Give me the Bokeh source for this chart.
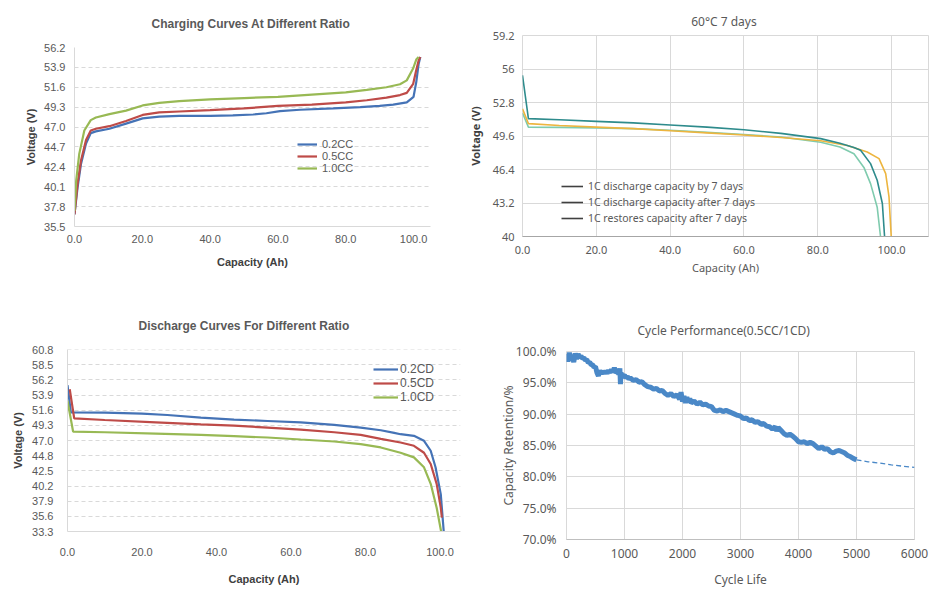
from bokeh.plotting import figure
from bokeh.layouts import column, row
from bokeh.models import FixedTicker, Legend, LegendItem, Range1d, Title
from bokeh.embed import file_html
from bokeh.resources import INLINE

# ---------------- data: charging curves ----------------
chg_02_x = [0, 0.9, 1.9, 3.4, 4.8, 6.3, 10.3, 15.2, 20.1, 25.0, 30.9, 40.0, 46.7, 52.7, 56.6, 60.6, 66.5, 76.3, 84.3, 90.0, 94.0, 98.0, 100.0, 100.8, 101.5, 102.0]
chg_02_y = [36.9, 40.0, 42.7, 45.1, 46.3, 46.5, 46.8, 47.4, 48.0, 48.2, 48.3, 48.3, 48.35, 48.45, 48.6, 48.85, 49.0, 49.15, 49.3, 49.45, 49.6, 49.85, 50.5, 52.2, 54.3, 55.1]
chg_05_x = [0, 0.9, 1.9, 3.4, 4.8, 6.3, 10.3, 15.2, 20.1, 25.0, 30.9, 40.0, 50.0, 60.0, 70.0, 80.0, 86.2, 92.0, 96.0, 98.0, 99.9, 100.8, 101.5, 102.0]
chg_05_y = [36.9, 40.4, 43.1, 45.5, 46.6, 46.8, 47.1, 47.7, 48.4, 48.7, 48.8, 48.95, 49.15, 49.45, 49.6, 49.85, 50.1, 50.4, 50.7, 50.95, 52.0, 53.6, 54.7, 55.1]
chg_10_x = [0, 0.5, 1.4, 2.9, 4.8, 6.3, 10.3, 15.2, 20.1, 25.0, 30.9, 40.0, 50.0, 60.0, 70.0, 80.0, 86.2, 92.0, 96.0, 98.0, 99.9, 100.8, 101.5]
chg_10_y = [37.3, 40.8, 43.9, 46.6, 47.8, 48.1, 48.5, 48.9, 49.5, 49.8, 50.0, 50.2, 50.35, 50.5, 50.75, 51.0, 51.3, 51.6, 51.95, 52.4, 53.8, 54.8, 55.1]
chg_names = ["0.2CC", "0.5CC", "1.0CC"]
chg_xticks = [0, 20, 40, 60, 80, 100]
chg_xlabels = ["0.0", "20.0", "40.0", "60.0", "80.0", "100.0"]
chg_yticks = [35.5, 37.8, 40.1, 42.4, 44.7, 47.0, 49.3, 51.6, 53.9, 56.2]
chg_ylabels = ["35.5", "37.8", "40.1", "42.4", "44.7", "47.0", "49.3", "51.6", "53.9", "56.2"]

# ---------------- data: 60C 7 days ----------------
st_by_x = [0, 1.6, 10, 20, 30, 40, 50, 60, 70, 80.8, 86, 89.8, 91.6, 94.3, 96.1, 97.5, 98.1]
st_by_y = [55.4, 51.26, 51.15, 51.0, 50.85, 50.65, 50.45, 50.2, 49.85, 49.35, 48.9, 48.5, 48.23, 46.96, 45.37, 43.15, 40.0]
st_after_x = [0, 1.6, 10, 20, 30, 40, 50, 60, 70, 80.8, 88, 93.4, 96.6, 98.4, 99.3, 99.9]
st_after_y = [52.2, 50.78, 50.6, 50.45, 50.3, 50.1, 49.9, 49.7, 49.45, 49.15, 48.7, 48.07, 47.44, 46.0, 43.78, 40.0]
st_rest_x = [0, 1.6, 10, 20, 30, 40, 50, 60, 70, 80.8, 86, 89.8, 92.5, 94.3, 96.1, 97.0]
st_rest_y = [51.8, 50.45, 50.42, 50.38, 50.3, 50.15, 49.95, 49.75, 49.5, 49.0, 48.55, 47.9, 46.6, 45.05, 42.8, 40.0]
st_names = ["1C discharge capacity by 7 days", "1C discharge capacity after 7 days", "1C restores capacity after 7 days"]
st_xticks = [0, 20, 40, 60, 80, 100]
st_xlabels = ["0.0", "20.0", "40.0", "60.0", "80.0", "100.0"]
st_yticks = [40, 43.2, 46.4, 49.6, 52.8, 56, 59.2]
st_ylabels = ["40", "43.2", "46.4", "49.6", "52.8", "56", "59.2"]

# ---------------- data: discharge curves ----------------
dis_02_x = [0, 0.9, 10, 20, 26.8, 35.8, 44.7, 53.7, 62.6, 71.6, 78.7, 84.1, 87.7, 89.4, 93.0, 95.7, 97.5, 98.8, 100.2, 101.0]
dis_02_y = [55.4, 51.3, 51.25, 51.1, 50.9, 50.5, 50.2, 50.0, 49.8, 49.4, 49.0, 48.6, 48.2, 48.0, 47.76, 47.0, 45.5, 43.0, 38.95, 33.3]
dis_05_x = [0.6, 1.8, 10, 23.7, 35.8, 44.7, 53.7, 62.6, 71.6, 78.7, 84.1, 89.4, 93.0, 95.7, 97.5, 99.1, 100.2, 100.5]
dis_05_y = [54.8, 50.4, 50.15, 49.8, 49.5, 49.3, 49.0, 48.7, 48.3, 47.9, 47.3, 46.75, 46.25, 45.2, 43.5, 40.5, 36.9, 35.4]
dis_10_x = [0, 1.5, 10, 23.7, 35.8, 44.7, 53.7, 62.6, 71.6, 78.7, 84.1, 89.4, 93.0, 95.7, 97.5, 99.1, 100.3]
dis_10_y = [53.05, 48.4, 48.3, 48.1, 47.9, 47.7, 47.5, 47.2, 46.9, 46.5, 46.0, 45.2, 44.5, 43.0, 40.5, 36.9, 33.3]
dis_names = ["0.2CD", "0.5CD", "1.0CD"]
dis_xticks = [0, 20, 40, 60, 80, 100]
dis_xlabels = ["0.0", "20.0", "40.0", "60.0", "80.0", "100.0"]
dis_yticks = [33.3, 35.59, 37.88, 40.17, 42.46, 44.75, 47.04, 49.33, 51.62, 53.91, 56.2, 58.49, 60.78]
dis_ylabels = ["33.3", "35.6", "37.9", "40.2", "42.5", "44.8", "47.0", "49.3", "51.6", "53.9", "56.2", "58.5", "60.8"]

# ---------------- data: cycle performance ----------------
cyc_x = [0, 25, 50, 75, 100, 125, 150, 175, 200, 225, 250, 275, 300, 325, 350, 375, 400, 425, 450, 475,
         500, 525, 550, 575, 600, 625, 650, 675, 700, 725, 750, 775, 800, 825, 850, 875, 900, 920, 930, 940,
         960, 1000, 1025, 1050, 1075, 1100, 1150, 1200, 1250, 1300, 1350, 1400, 1450, 1500, 1550, 1600, 1650, 1700, 1750, 1800,
         1850, 1900, 1950, 1975, 2000, 2025, 2050, 2075, 2100, 2125, 2150, 2200, 2250, 2300, 2350, 2400, 2450, 2500, 2550, 2600,
         2650, 2700, 2750, 2800, 2850, 2900, 2950, 3000, 3050, 3100, 3150, 3200, 3250, 3300, 3350, 3400, 3450, 3500, 3550, 3600,
         3625, 3650, 3700, 3750, 3800, 3850, 3900, 3950, 4000, 4050, 4100, 4150, 4200, 4250, 4300, 4350, 4400, 4450, 4500, 4550,
         4600, 4650, 4700, 4750, 4800, 4850, 4900, 4950, 5000]
cyc_y = [99.6, 98.4, 99.8, 98.6, 99.5, 98.3, 99.7, 98.8, 99.6, 99.0, 99.3, 98.9, 99.0, 98.6, 98.7, 98.2, 98.3, 97.9, 97.9, 97.5,
         97.6, 96.6, 96.1, 97.0, 96.4, 96.9, 96.5, 96.9, 96.5, 97.0, 96.6, 97.1, 96.7, 97.4, 96.6, 96.8, 96.4, 97.3, 94.8, 96.6,
         96.0, 96.2, 95.8, 96.0, 95.6, 95.8, 95.4, 95.5, 95.1, 95.2, 94.7, 94.4, 94.3, 94.0, 94.1, 93.7, 93.8, 93.3, 93.0, 93.3,
         92.8, 93.1, 92.4, 93.5, 92.0, 92.9, 91.8, 92.7, 91.9, 92.5, 91.8, 92.1, 91.6, 91.9, 91.5, 91.6, 91.3, 91.2, 90.6, 90.5,
         90.7, 90.4, 90.6, 90.4, 90.2, 90.0, 89.8, 89.7, 89.3, 89.4, 89.0, 89.1, 88.7, 88.8, 88.4, 88.5, 88.1, 88.0, 87.6, 88.0,
         87.3, 87.9, 87.4, 86.9, 86.6, 86.8, 86.5, 86.1, 85.6, 85.5, 85.6, 85.3, 85.5, 85.3, 84.9, 84.5, 84.8, 84.4, 84.5, 84.0,
         83.8, 84.1, 84.2, 84.0, 83.8, 83.4, 83.2, 82.9, 82.7]
cyc_fit_x = [5000, 5200, 5400, 5600, 5800, 6000]
cyc_fit_y = [82.7, 82.4, 82.2, 81.9, 81.7, 81.5]
cyc_xticks = [0, 1000, 2000, 3000, 4000, 5000, 6000]
cyc_yticks = [70, 75, 80, 85, 90, 95, 100]
cyc_ylabels = ["70.0%", "75.0%", "80.0%", "85.0%", "90.0%", "95.0%", "100.0%"]

WL, WR = 464, 480
H1, H2 = 296, 300
GRID = "#D9D9D9"
TXT = "#595959"
LFONT = "Liberation Sans"
RFONT = "Noto Sans"
NAN = float("nan")


def make_fig(w, h, xr, yr, left, right, top, bottom):
    p = figure(width=w, height=h, output_backend="svg", toolbar_location=None,
               x_range=Range1d(*xr), y_range=Range1d(*yr),
               min_border_left=left, min_border_right=right,
               min_border_top=top, min_border_bottom=bottom)
    p.frame_align = False
    return p


def style_axes(p, font, bold_x, bold_y, size="11px"):
    for ax in (p.xaxis[0], p.yaxis[0]):
        ax.major_tick_line_color = None
        ax.minor_tick_line_color = None
        ax.major_label_text_font = font
        ax.major_label_text_font_size = size
        ax.major_label_text_color = TXT
        ax.axis_label_text_font = font
        ax.axis_label_text_font_size = "11px" if font == LFONT else "12px"
        ax.axis_label_text_color = "#404040" if font == LFONT else TXT
    p.xaxis[0].axis_label_text_font_style = "bold" if bold_x else "normal"
    p.yaxis[0].axis_label_text_font_style = "bold" if bold_y else "normal"


def set_ticks(axis, ticks, labels):
    axis.ticker = FixedTicker(ticks=ticks)
    axis.major_label_overrides = {t: l for t, l in zip(ticks, labels)}


def add_title(p, text, font, style, align, offset, standoff, valign="bottom"):
    t = Title(text=text, text_font=font, text_font_style=style, text_font_size="12px",
              text_color=TXT, align=align, offset=offset, standoff=standoff,
              vertical_align=valign)
    p.add_layout(t, "above")


# ---------------- top-left ----------------
p1 = make_fig(WL, H1, (0, 105), (35.5, 56.2), 74, 34, 47, 70)
p1.outline_line_color = None
add_title(p1, "Charging Curves At Different Ratio", LFONT, "bold", "left", 77, 30, "top")
r11 = p1.line(chg_02_x, chg_02_y, line_color="#4573B6", line_width=2.2)
r12 = p1.line(chg_05_x, chg_05_y, line_color="#BE4B48", line_width=2.2)
r13 = p1.line(chg_10_x, chg_10_y, line_color="#98B954", line_width=2.2)
set_ticks(p1.xaxis[0], chg_xticks, chg_xlabels)
set_ticks(p1.yaxis[0], chg_yticks, chg_ylabels)
p1.xaxis.axis_label = "Capacity (Ah)"
p1.yaxis.axis_label = "Voltage (V)"
style_axes(p1, LFONT, True, True)
p1.xaxis.axis_line_color = GRID
p1.yaxis.axis_line_color = GRID
p1.xgrid.grid_line_color = None
p1.ygrid.grid_line_color = GRID
p1.ygrid.grid_line_dash = "4 3"
p1.xaxis.major_label_standoff = 2
p1.xaxis.axis_label_standoff = 10
p1.yaxis.major_label_standoff = 3
p1.yaxis.axis_label_standoff = 4
leg1 = Legend(items=[LegendItem(label=n, renderers=[r]) for n, r in zip(chg_names, [r11, r12, r13])],
              location=(223, 52), glyph_width=20, glyph_height=12, label_height=12, spacing=0,
              padding=0, margin=0, label_standoff=5, border_line_color=None, background_fill_alpha=0,
              label_text_font=LFONT, label_text_font_size="11px", label_text_color=TXT)
p1.add_layout(leg1)

# ---------------- top-right ----------------
p2 = make_fig(WR, H1, (0, 110), (40, 59.2), 58, 16, 35, 60)
p2.outline_line_color = GRID
add_title(p2, "60\u00b0C  7 days", RFONT, "normal", "center", 0, 8, "top")
p2.line(st_rest_x, st_rest_y, line_color="#7FCBAE", line_width=1.6)
p2.line(st_after_x, st_after_y, line_color="#EDB53F", line_width=1.6)
p2.line(st_by_x, st_by_y, line_color="#2E8B8C", line_width=1.6)
set_ticks(p2.xaxis[0], st_xticks, st_xlabels)
set_ticks(p2.yaxis[0], st_yticks, st_ylabels)
p2.xaxis.axis_label = "Capacity (Ah)"
p2.yaxis.axis_label = "Voltage (V)"
style_axes(p2, RFONT, False, True)
p2.yaxis.axis_label_text_color = "#404040"
p2.yaxis.axis_label_text_font_size = "11px"
p2.xaxis.axis_label_text_font_size = "11px"
p2.xaxis.axis_line_color = "#A6A6A6"
p2.yaxis.axis_line_color = None
p2.xgrid.grid_line_color = GRID
p2.ygrid.grid_line_color = GRID
p2.xaxis.major_label_standoff = 3
p2.xaxis.axis_label_standoff = 3
p2.yaxis.major_label_standoff = 2
p2.yaxis.axis_label_standoff = 7
dummy = [p2.line([NAN], [NAN], line_color="#404040", line_width=1.6) for _ in st_names]
leg2 = Legend(items=[LegendItem(label=n, renderers=[r]) for n, r in zip(st_names, dummy)],
              location=(39, 10), glyph_width=22, glyph_height=16, label_height=16, spacing=0,
              padding=0, margin=0, label_standoff=5, border_line_color=None, background_fill_alpha=0,
              label_text_font=RFONT, label_text_font_size="10.5px", label_text_color=TXT)
p2.add_layout(leg2)

# ---------------- bottom-left ----------------
p3 = make_fig(WL, H2, (0, 105.5), (33.3, 60.8), 67, 4, 53, 65)
p3.outline_line_color = None
add_title(p3, "Discharge Curves For Different Ratio", LFONT, "bold", "left", 71, 34)
r31 = p3.line(dis_02_x, dis_02_y, line_color="#4573B6", line_width=2.2)
r32 = p3.line(dis_05_x, dis_05_y, line_color="#BE4B48", line_width=2.2)
r33 = p3.line(dis_10_x, dis_10_y, line_color="#98B954", line_width=2.2)
set_ticks(p3.xaxis[0], dis_xticks, dis_xlabels)
set_ticks(p3.yaxis[0], dis_yticks, dis_ylabels)
p3.xaxis.axis_label = "Capacity (Ah)"
p3.yaxis.axis_label = "Voltage (V)"
style_axes(p3, LFONT, True, True)
p3.xaxis.axis_line_color = GRID
p3.yaxis.axis_line_color = GRID
p3.xgrid.grid_line_color = None
p3.ygrid.grid_line_color = GRID
p3.ygrid.grid_line_dash = "4 3"
p3.xaxis.major_label_standoff = 10
p3.xaxis.axis_label_standoff = 14
p3.yaxis.major_label_standoff = 8
leg3 = Legend(items=[LegendItem(label=n, renderers=[r]) for n, r in zip(dis_names, [r31, r32, r33])],
              location=(306, 127), glyph_width=25, glyph_height=14, label_height=14, spacing=0,
              padding=0, margin=0, label_standoff=2, border_line_color=None, background_fill_alpha=0,
              label_text_font=LFONT, label_text_font_size="12px", label_text_color=TXT)
p3.add_layout(leg3)

# ---------------- bottom-right ----------------
p4 = make_fig(WR, H2, (0, 6000), (70, 100), 102, 30, 55, 57)
p4.outline_line_color = GRID
add_title(p4, "Cycle Performance(0.5CC/1CD)", RFONT, "normal", "left", 71, 26)
p4.line(cyc_fit_x, cyc_fit_y, line_color="#4A88C7", line_width=1.3, line_dash="5 3")
p4.line(cyc_x, cyc_y, line_color="#4A88C7", line_width=5)
p4.xaxis.ticker = FixedTicker(ticks=cyc_xticks)
set_ticks(p4.yaxis[0], cyc_yticks, cyc_ylabels)
p4.xaxis.axis_label = "Cycle Life"
p4.yaxis.axis_label = "Capacity Retention/%"
style_axes(p4, RFONT, False, False, size="12px")
p4.xaxis.axis_line_color = "#BFBFBF"
p4.yaxis.axis_line_color = None
p4.xgrid.grid_line_color = GRID
p4.ygrid.grid_line_color = GRID
p4.xaxis.major_label_standoff = 3
p4.xaxis.axis_label_standoff = 10
p4.yaxis.major_label_standoff = 4
p4.yaxis.axis_label_standoff = -4

layout = column(row(p1, p2), row(p3, p4))
open("out.html", "w").write(file_html(layout, INLINE))
